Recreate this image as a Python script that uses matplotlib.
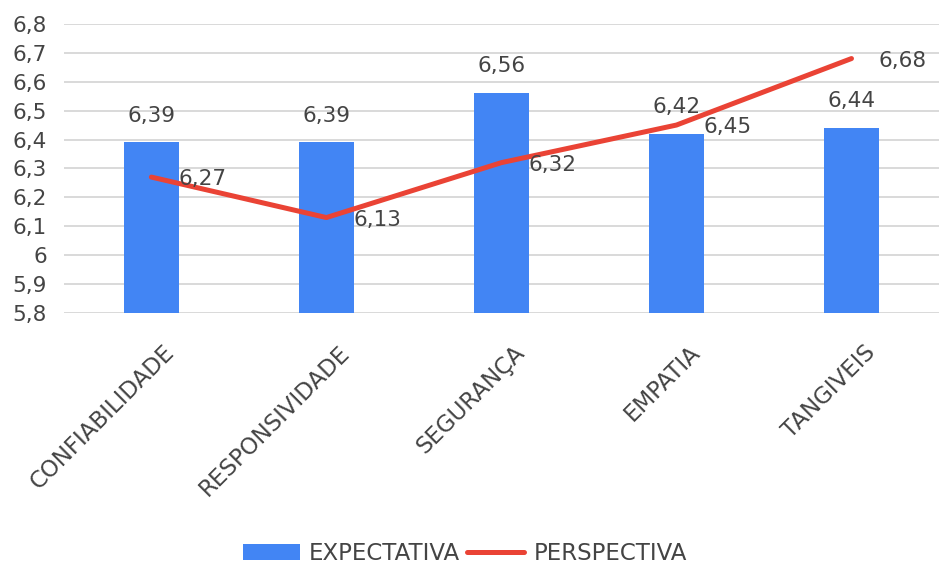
import matplotlib.pyplot as plt
from matplotlib.ticker import FuncFormatter, MultipleLocator
from matplotlib.transforms import ScaledTranslation

categories = ["CONFIABILIDADE", "RESPONSIVIDADE", "SEGURANÇA", "EMPATIA", "TANGIVEIS"]
expectativa = [6.39, 6.39, 6.56, 6.42, 6.44]
perspectiva = [6.27, 6.13, 6.32, 6.45, 6.68]

BLUE = "#4285F4"
RED = "#EA4335"
TEXT = "#444444"
GRID = "#d9d9d9"


def br(v, _pos=None):
    s = f"{v:.1f}".replace(".", ",")
    return s[:-2] if s.endswith(",0") else s


plt.rcParams["font.family"] = ["DejaVu Sans"]

fig = plt.figure(figsize=(9.39, 5.68), dpi=100)
ax = fig.add_axes([0.068, 0.449, 0.932, 0.509])

x = list(range(len(categories)))
bars = ax.bar(x, expectativa, width=0.314, color=BLUE, zorder=2, label="EXPECTATIVA")
line, = ax.plot(x, perspectiva, color=RED, lw=3.6, solid_capstyle="round", zorder=3, label="PERSPECTIVA")

for xi, v in zip(x, expectativa):
    ax.annotate(f"{v:.2f}".replace(".", ","), (xi, v), xytext=(0, 15), textcoords="offset points",
                ha="center", va="baseline", fontsize=15.5, color=TEXT, zorder=4)
for xi, v in zip(x, perspectiva):
    ax.annotate(f"{v:.2f}".replace(".", ","), (xi, v), xytext=(19.5, 0), textcoords="offset points",
                ha="left", va="center_baseline", fontsize=15.5, color=TEXT, zorder=4)

ax.set_xlim(-0.5, len(categories) - 0.5)
ax.set_ylim(5.8, 6.8)
ax.yaxis.set_major_locator(MultipleLocator(0.1))
ax.yaxis.set_major_formatter(FuncFormatter(br))
ax.grid(axis="y", color=GRID, lw=1.4, zorder=0)
ax.set_axisbelow(True)
for side in ax.spines.values():
    side.set_visible(False)
ax.tick_params(axis="y", length=0, pad=12, labelsize=15.5, labelcolor=TEXT)
ax.tick_params(axis="x", length=0, pad=26, labelsize=16.5, labelcolor=TEXT)

ax.set_xticks(x)
ax.set_xticklabels(categories)
shift = ScaledTranslation(0.2, 0, fig.dpi_scale_trans)
for lbl in ax.get_xticklabels():
    lbl.set_rotation(45)
    lbl.set_ha("right")
    lbl.set_va("center")
    lbl.set_rotation_mode("anchor")
    lbl.set_transform(lbl.get_transform() + shift)

fig.legend([bars, line], ["EXPECTATIVA", "PERSPECTIVA"], loc="center",
           bbox_to_anchor=(0.495, 0.025), ncol=2, frameon=False,
           fontsize=16.5, labelcolor=TEXT, handlelength=2.5, handleheight=0.7,
           handletextpad=0.4, columnspacing=0.3)

fig.savefig("out.png", dpi=100)
